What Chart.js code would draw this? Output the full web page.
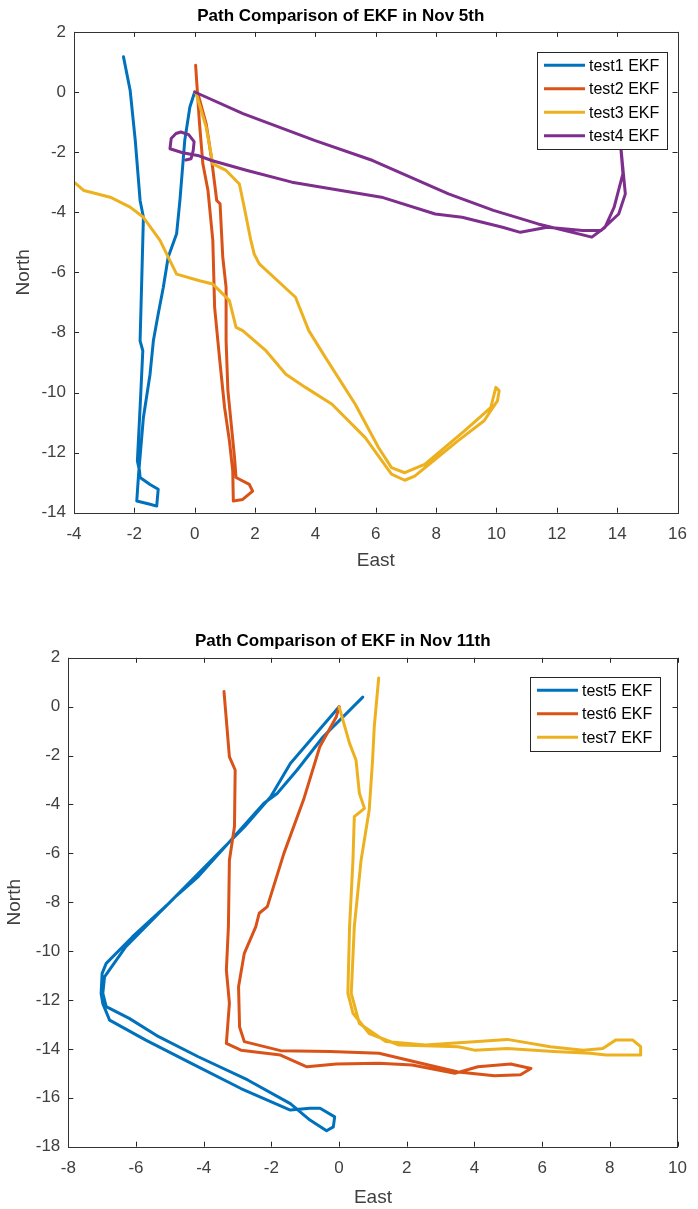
<!DOCTYPE html>
<html>
<head>
<meta charset="utf-8">
<script src="https://cdn.jsdelivr.net/npm/chart.js@4.4.1/dist/chart.umd.min.js"></script>
<style>
  body { margin: 0; background: #fff; }
  canvas { display: block; }
</style>
</head>
<body>
<canvas id="nov5" width="698" height="600"></canvas>
<canvas id="nov11" width="698" height="609"></canvas>
<script>
'use strict'

// ---- Nov 5th ----
const nov5Labels = ['test1 EKF', 'test2 EKF', 'test3 EKF', 'test4 EKF']
const nov5EastTicks = [-4, -2, 0, 2, 4, 6, 8, 10, 12, 14, 16]
const nov5NorthTicks = [-14, -12, -10, -8, -6, -4, -2, 0, 2]

const test1East = [0, -0.16, -0.33, -0.49, -0.60, -0.88, -1.04, -1.21, -1.37, -1.48, -1.70, -1.86, -1.92, -1.48, -1.26, -1.21, -1.48, -1.81, -1.83, -1.90, -1.81, -1.72, -1.81, -1.75, -1.70, -1.81, -1.97, -2.14, -2.36]
const test1North = [0, -0.5, -1.61, -3.61, -4.72, -5.5, -6.5, -7.39, -8.28, -9.39, -10.83, -12.72, -13.61, -13.72, -13.78, -13.22, -13.06, -12.83, -12.6, -12.28, -10.5, -8.61, -8.28, -6.06, -4.17, -3.61, -1.61, 0.06, 1.17]

const test2East = [0.05, 0.11, 0.38, 0.55, 0.73, 0.84, 0.93, 1.04, 1.04, 1.10, 1.32, 1.37, 1.81, 1.92, 1.59, 1.28, 1.26, 1.15, 0.99, 0.82, 0.66, 0.63, 0.60, 0.44, 0.27, 0.16, 0.03]
const test2North = [0, -0.06, -1.06, -2.17, -3.61, -3.72, -5.5, -6.5, -8.28, -9.94, -12.17, -12.83, -13.06, -13.28, -13.56, -13.61, -12.61, -11.61, -10.5, -8.83, -7.17, -6.06, -4.94, -3.28, -2.39, -1.06, 0.89]

const test3East = [0, 0.05, 0.38, 0.60, 1.04, 1.48, 1.64, 1.86, 1.97, 2.14, 3.34, 3.78, 4.33, 5.32, 6.09, 6.52, 6.96, 7.62, 8.94, 9.81, 9.98, 10.09, 10.03, 9.59, 8.72, 7.84, 7.29, 6.96, 6.52, 5.65, 4.55, 3.67, 3.02, 2.36, 1.59, 1.37, 1.15, 0.82, 0.60, 0.16, -0.60, -0.82, -1.15, -1.70, -2.14, -2.80, -3.67, -4.0]
const test3North = [0, -0.06, -1.17, -2.39, -2.61, -3.06, -3.83, -4.94, -5.39, -5.72, -6.83, -7.94, -8.83, -10.39, -11.83, -12.5, -12.67, -12.39, -11.28, -10.5, -9.83, -9.94, -10.28, -10.94, -11.61, -12.33, -12.78, -12.92, -12.72, -11.5, -10.39, -9.83, -9.39, -8.61, -7.94, -7.83, -6.94, -6.61, -6.39, -6.28, -6.06, -5.61, -4.94, -4.17, -3.83, -3.5, -3.28, -3.0]

const test4East = [0, 1.6, 3.97, 5.9, 8.41, 9.9, 11.38, 13.16, 13.6, 13.9, 14.19, 14.1, 14.27, 14.05, 13.46, 12.86, 11.68, 10.79, 10.2, 8.86, 7.97, 6.19, 5.15, 3.22, 1.74, 0.56, 0.1, -0.4, -0.82, -0.78, -0.62, -0.46, -0.2, -0.02, -0.05, -0.12, -0.3]
const test4North = [0, -0.72, -1.61, -2.28, -3.39, -3.94, -4.39, -4.83, -4.5, -3.83, -2.72, -1.6, -3.39, -4.06, -4.61, -4.61, -4.5, -4.67, -4.5, -4.17, -4.06, -3.5, -3.33, -3.0, -2.61, -2.28, -2.11, -2.02, -1.89, -1.55, -1.38, -1.33, -1.42, -1.65, -1.95, -2.22, -2.26]

// ---- Nov 11th ----
const nov11Labels = ['test5 EKF', 'test6 EKF', 'test7 EKF']
const nov11EastTicks = [-8, -6, -4, -2, 0, 2, 4, 6, 8, 10]
const nov11NorthTicks = [-18, -16, -14, -12, -10, -8, -6, -4, -2, 0, 2]

const test5East = [0, -1.44, -2.02, -2.80, -3.38, -4.35, -5.03, -6.1, -6.88, -7.0, -7.03, -6.98, -6.78, -5.71, -4.35, -2.90, -1.44, -0.86, -0.56, -0.13, -0.17, -0.37, -0.86, -1.44, -2.70, -4.16, -5.33, -6.2, -6.88, -6.98, -6.93, -6.30, -5.33, -4.84, -4.16, -3.19, -2.22, -1.83, -1.24, -0.47, 0.70]
const test5North = [0, -2.32, -3.68, -4.92, -5.73, -7.09, -8.04, -9.41, -10.5, -10.91, -11.73, -12.15, -12.82, -13.64, -14.6, -15.62, -16.5, -16.43, -16.43, -16.78, -17.19, -17.35, -16.91, -16.24, -15.27, -14.32, -13.5, -12.75, -12.27, -11.73, -11.05, -9.82, -8.46, -7.78, -6.95, -5.45, -3.95, -3.55, -2.59, -1.23, 0.39]

const test6East = [-3.40, -3.24, -3.07, -3.09, -3.24, -3.27, -3.33, -3.24, -3.33, -2.90, -1.73, -0.95, -0.08, 1.18, 2.16, 3.42, 4.10, 5.07, 5.67, 5.36, 4.59, 3.52, 2.64, 1.18, -0.27, -1.73, -2.80, -2.94, -2.97, -2.80, -2.46, -2.36, -2.12, -1.63, -1.05, -0.57, -0.08, 0]
const test6North = [0.62, -2.05, -2.59, -4.9, -6.28, -9.0, -10.78, -12.13, -13.77, -14.05, -14.25, -14.73, -14.62, -14.59, -14.66, -15.0, -14.73, -14.62, -14.8, -15.06, -15.1, -14.94, -14.66, -14.18, -14.11, -14.07, -13.7, -13.1, -11.46, -10.09, -9.0, -8.45, -8.18, -6.0, -3.81, -1.64, -0.41, 0]

const test7East = [0, 0.31, 0.50, 0.60, 0.75, 0.45, 0.41, 0.31, 0.26, 0.41, 0.89, 1.77, 3.52, 4.0, 4.97, 6.34, 7.41, 7.89, 8.91, 8.91, 8.67, 8.18, 7.79, 7.21, 6.24, 4.97, 4.10, 2.55, 1.38, 0.60, 0.36, 0.45, 0.55, 0.65, 0.89, 0.99, 1.04, 1.17]
const test7North = [0, -1.5, -2.18, -3.54, -4.16, -4.5, -6.28, -9.0, -11.73, -12.54, -13.37, -13.84, -13.91, -14.05, -13.98, -14.11, -14.18, -14.25, -14.25, -13.91, -13.63, -13.63, -13.98, -14.05, -13.91, -13.61, -13.7, -13.84, -13.7, -12.96, -11.73, -9.0, -7.64, -6.28, -4.23, -2.18, -0.81, 1.17]

const FONT = "'Liberation Sans', Arial, Helvetica, sans-serif"
const AXIS = '#404040'
const colors = ['#0072BD', '#D95319', '#EDB120', '#7E2F8E']

const toPoints = (east, north) => east.map((x, i) => ({ x: x, y: north[i] }))

// box round the axes, with ticks pointing inwards on all four sides
const matlabBox = {
  id: 'matlabBox',
  afterDatasetsDraw (chart) {
    const { ctx, chartArea: a, scales } = chart
    ctx.save()
    ctx.strokeStyle = '#262626'
    ctx.lineWidth = 1
    ctx.beginPath()
    for (const t of scales.x.ticks) {
      const px = Math.round(scales.x.getPixelForValue(t.value)) + 0.5
      ctx.moveTo(px, a.bottom); ctx.lineTo(px, a.bottom - 5)
      ctx.moveTo(px, a.top); ctx.lineTo(px, a.top + 5)
    }
    for (const t of scales.y.ticks) {
      const py = Math.round(scales.y.getPixelForValue(t.value)) + 0.5
      ctx.moveTo(a.left, py); ctx.lineTo(a.left + 5, py)
      ctx.moveTo(a.right, py); ctx.lineTo(a.right - 5, py)
    }
    ctx.stroke()
    ctx.strokeStyle = '#333'
    ctx.strokeRect(Math.round(a.left) + 0.5, Math.round(a.top) + 0.5, Math.round(a.right - a.left), Math.round(a.bottom - a.top))
    ctx.restore()
  }
}

// legend with a frame, top right inside the axes
const boxLegend = {
  id: 'boxLegend',
  afterDraw (chart, args, opts) {
    const { ctx, chartArea: a } = chart
    const sets = chart.data.datasets
    ctx.save()
    ctx.font = '16px ' + FONT
    const textW = Math.max(...sets.map(d => ctx.measureText(d.label).width))
    const w = Math.round(7 + 41 + 4 + textW + 8)
    const rowH = 23.5
    const h = Math.round(sets.length * rowH + 3)
    const left = Math.round(a.right - opts.right - w)
    const top = Math.round(a.top + opts.top)
    ctx.fillStyle = '#fff'
    ctx.fillRect(left, top, w, h)
    ctx.strokeStyle = '#262626'
    ctx.lineWidth = 1
    ctx.strokeRect(left + 0.5, top + 0.5, w, h)
    sets.forEach((d, i) => {
      const y = top + 1.5 + rowH * (i + 0.5)
      ctx.strokeStyle = d.borderColor
      ctx.lineWidth = 3
      ctx.beginPath()
      ctx.moveTo(left + 7, y)
      ctx.lineTo(left + 48, y)
      ctx.stroke()
      ctx.fillStyle = '#000'
      ctx.textBaseline = 'middle'
      ctx.fillText(d.label, left + 52, y + 1)
    })
    ctx.restore()
  }
}

function makeChart (id, cfg) {
  const datasets = cfg.series.map((s, i) => ({
    label: cfg.labels[i],
    data: toPoints(s[0], s[1]),
    borderColor: colors[i],
    backgroundColor: colors[i],
    borderWidth: 3,
    borderJoinStyle: 'round',
    borderCapStyle: 'round',
    pointRadius: 0,
    showLine: true,
    tension: 0,
    fill: false,
    order: cfg.series.length - i
  }))
  return new Chart(document.getElementById(id), {
    type: 'scatter',
    data: { datasets: datasets },
    plugins: [matlabBox, boxLegend],
    options: {
      responsive: false,
      animation: false,
      events: [],
      layout: { padding: { left: 0, right: cfg.padRight, top: 0, bottom: 0 } },
      plugins: {
        legend: { display: false },
        tooltip: { enabled: false },
        title: {
          display: true,
          text: cfg.title,
          color: '#000',
          font: { family: FONT, size: 17, weight: 'bold' },
          padding: { top: cfg.titleTop, bottom: cfg.titleBottom }
        },
        boxLegend: cfg.legend
      },
      scales: {
        x: {
          type: 'linear',
          min: cfg.xTicks[0],
          max: cfg.xTicks[cfg.xTicks.length - 1],
          afterBuildTicks: (scale) => { scale.ticks = cfg.xTicks.map(v => ({ value: v })) },
          afterFit: (scale) => { scale.height = cfg.xHeight },
          ticks: { color: AXIS, font: { family: FONT, size: 17 }, padding: 11, maxRotation: 0, autoSkip: false },
          grid: { display: false, drawTicks: false },
          border: { display: false },
          title: { display: true, text: 'East', color: AXIS, font: { family: FONT, size: 19 }, padding: { top: 0, bottom: cfg.xTitlePad } }
        },
        y: {
          type: 'linear',
          min: cfg.yTicks[0],
          max: cfg.yTicks[cfg.yTicks.length - 1],
          afterBuildTicks: (scale) => { scale.ticks = cfg.yTicks.map(v => ({ value: v })) },
          afterFit: (scale) => { scale.width = cfg.yWidth },
          ticks: { color: AXIS, font: { family: FONT, size: 17 }, padding: 8, autoSkip: false },
          grid: { display: false, drawTicks: false },
          border: { display: false },
          title: { display: true, text: 'North', color: AXIS, font: { family: FONT, size: 19 }, padding: { top: cfg.yTitlePad, bottom: 0 } }
        }
      }
    }
  })
}

makeChart('nov5', {
  title: 'Path Comparison of EKF in Nov 5th',
  labels: nov5Labels,
  series: [[test1East, test1North], [test2East, test2North], [test3East, test3North], [test4East, test4North]],
  xTicks: nov5EastTicks,
  yTicks: nov5NorthTicks,
  padRight: 16.5,
  titleTop: 6,
  titleBottom: 5.5,
  xHeight: 87.3,
  yWidth: 74,
  xTitlePad: 27.6,
  yTitlePad: 12.3,
  legend: { right: 10.5, top: 20 }
})

makeChart('nov11', {
  title: 'Path Comparison of EKF in Nov 11th',
  labels: nov11Labels,
  series: [[test5East, test5North], [test6East, test6North], [test7East, test7North]],
  xTicks: nov11EastTicks,
  yTicks: nov11NorthTicks,
  padRight: 12.3,
  titleTop: 31.5,
  titleBottom: 5.9,
  xHeight: 62.3,
  yWidth: 68.3,
  xTitlePad: 0,
  yTitlePad: 3.6,
  legend: { right: 17.4, top: 19.5 }
})
</script>
</body>
</html>
